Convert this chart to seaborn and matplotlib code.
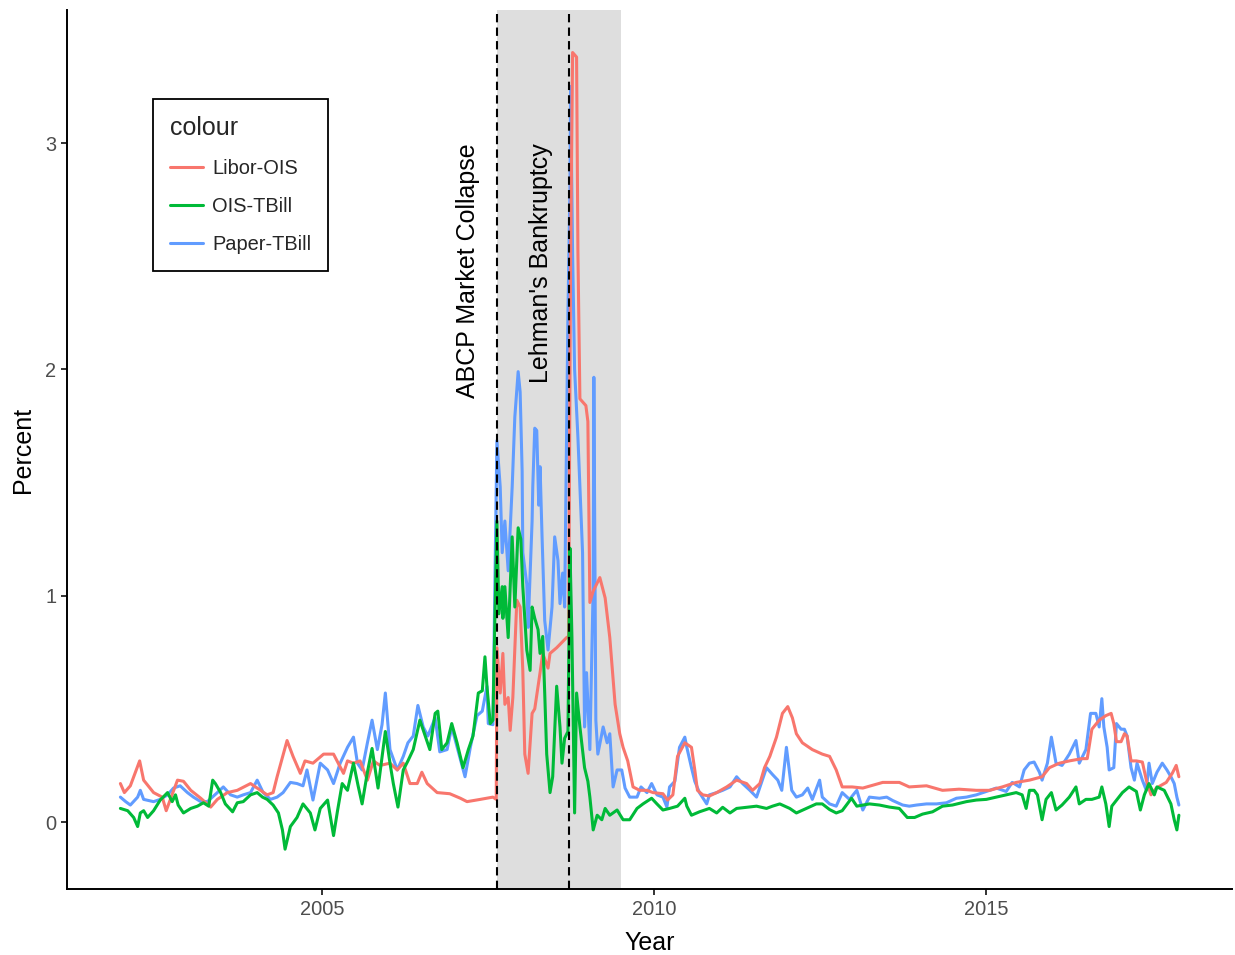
import matplotlib
matplotlib.use("Agg")
import matplotlib.pyplot as plt
import pandas as pd
import seaborn as sns
from matplotlib.lines import Line2D

# ---- spread series (percent), dates as decimal years ----
libor_years = [2001.96, 2002.02, 2002.11, 2002.25, 2002.31, 2002.46, 2002.59, 2002.65, 2002.82, 2002.91,
               2003.02, 2003.17, 2003.32, 2003.42, 2003.57, 2003.72, 2003.92, 2004.02, 2004.17, 2004.26,
               2004.32, 2004.47, 2004.56, 2004.67, 2004.74, 2004.86, 2005.02, 2005.17, 2005.32, 2005.38,
               2005.47, 2005.57, 2005.68, 2005.77, 2005.87, 2006.02, 2006.13, 2006.22, 2006.32, 2006.43,
               2006.50, 2006.58, 2006.73, 2006.92, 2007.08, 2007.18, 2007.38, 2007.57, 2007.62, 2007.63,
               2007.68, 2007.72, 2007.75, 2007.80, 2007.83, 2007.87, 2007.93, 2007.98, 2008.02, 2008.05,
               2008.10, 2008.16, 2008.20, 2008.28, 2008.32, 2008.40, 2008.43, 2008.53, 2008.68, 2008.71,
               2008.74, 2008.77, 2008.83, 2008.85, 2008.88, 2008.97, 2009.00, 2009.02, 2009.03, 2009.08,
               2009.18, 2009.26, 2009.33, 2009.41, 2009.48, 2009.53, 2009.60, 2009.68, 2009.78, 2009.89,
               2009.98, 2010.13, 2010.20, 2010.28, 2010.35, 2010.46, 2010.56, 2010.61, 2010.65, 2010.73,
               2010.83, 2010.94, 2011.09, 2011.24, 2011.39, 2011.48, 2011.59, 2011.66, 2011.74, 2011.84,
               2011.93, 2012.01, 2012.08, 2012.14, 2012.23, 2012.38, 2012.53, 2012.64, 2012.74, 2012.83,
               2012.98, 2013.14, 2013.44, 2013.69, 2013.84, 2014.10, 2014.34, 2014.59, 2014.85, 2015.05,
               2015.24, 2015.45, 2015.65, 2015.84, 2015.95, 2016.10, 2016.25, 2016.44, 2016.52, 2016.59,
               2016.70, 2016.80, 2016.88, 2016.92, 2016.96, 2017.03, 2017.08, 2017.12, 2017.18, 2017.26,
               2017.35, 2017.41, 2017.48, 2017.56, 2017.71, 2017.80, 2017.86, 2017.90]
libor_vals = [0.17, 0.13, 0.16, 0.27, 0.185, 0.13, 0.11, 0.05, 0.185, 0.18,
              0.14, 0.105, 0.066, 0.10, 0.13, 0.14, 0.17, 0.15, 0.12, 0.13,
              0.20, 0.36, 0.29, 0.215, 0.27, 0.26, 0.30, 0.30, 0.215, 0.27,
              0.26, 0.27, 0.185, 0.27, 0.25, 0.26, 0.23, 0.26, 0.17, 0.17,
              0.22, 0.17, 0.13, 0.125, 0.105, 0.09, 0.10, 0.11, 0.10, 0.77,
              0.57, 0.745, 0.52, 0.55, 0.405, 0.55, 0.98, 0.95, 0.67, 0.30,
              0.215, 0.48, 0.50, 0.66, 0.745, 0.68, 0.745, 0.77, 0.815, 0.82,
              2.49, 3.40, 3.38, 2.52, 1.87, 1.84, 1.77, 1.26, 0.97, 1.02,
              1.08, 0.99, 0.815, 0.52, 0.39, 0.33, 0.27, 0.155, 0.14, 0.14,
              0.13, 0.125, 0.097, 0.12, 0.29, 0.35, 0.33, 0.23, 0.14, 0.12,
              0.115, 0.13, 0.155, 0.185, 0.17, 0.14, 0.17, 0.24, 0.29, 0.375,
              0.48, 0.51, 0.46, 0.39, 0.35, 0.32, 0.30, 0.29, 0.23, 0.155,
              0.155, 0.15, 0.175, 0.175, 0.155, 0.16, 0.14, 0.145, 0.14, 0.14,
              0.155, 0.175, 0.185, 0.20, 0.24, 0.26, 0.27, 0.28, 0.28, 0.41,
              0.45, 0.47, 0.48, 0.435, 0.355, 0.355, 0.39, 0.38, 0.27, 0.27,
              0.265, 0.185, 0.12, 0.15, 0.175, 0.215, 0.25, 0.20]

ois_years = [2001.96, 2002.07, 2002.16, 2002.22, 2002.26, 2002.31, 2002.37, 2002.46, 2002.56, 2002.67,
             2002.74, 2002.79, 2002.83, 2002.91, 2003.02, 2003.12, 2003.21, 2003.29, 2003.35, 2003.39,
             2003.47, 2003.54, 2003.65, 2003.72, 2003.81, 2003.92, 2004.02, 2004.10, 2004.17, 2004.26,
             2004.34, 2004.40, 2004.44, 2004.52, 2004.62, 2004.71, 2004.82, 2004.89, 2004.97, 2005.08,
             2005.17, 2005.23, 2005.30, 2005.38, 2005.47, 2005.54, 2005.60, 2005.68, 2005.75, 2005.84,
             2005.95, 2006.02, 2006.07, 2006.14, 2006.22, 2006.29, 2006.37, 2006.47, 2006.55, 2006.62,
             2006.70, 2006.74, 2006.80, 2006.88, 2006.95, 2007.03, 2007.12, 2007.20, 2007.27, 2007.35,
             2007.41, 2007.45, 2007.48, 2007.53, 2007.57, 2007.60, 2007.63, 2007.66, 2007.71, 2007.72,
             2007.75, 2007.80, 2007.86, 2007.90, 2007.95, 2007.99, 2008.02, 2008.08, 2008.13, 2008.16,
             2008.20, 2008.25, 2008.28, 2008.32, 2008.35, 2008.38, 2008.43, 2008.47, 2008.53, 2008.58,
             2008.61, 2008.65, 2008.70, 2008.73, 2008.76, 2008.80, 2008.83, 2008.88, 2008.95, 2009.00,
             2009.03, 2009.08, 2009.14, 2009.21, 2009.26, 2009.33, 2009.44, 2009.53, 2009.63, 2009.74,
             2009.83, 2009.96, 2010.04, 2010.13, 2010.23, 2010.35, 2010.46, 2010.49, 2010.56, 2010.68,
             2010.83, 2010.94, 2011.03, 2011.14, 2011.24, 2011.39, 2011.54, 2011.69, 2011.78, 2011.89,
             2012.04, 2012.14, 2012.29, 2012.44, 2012.53, 2012.64, 2012.74, 2012.83, 2012.97, 2013.05,
             2013.24, 2013.39, 2013.54, 2013.69, 2013.81, 2013.92, 2014.04, 2014.19, 2014.34, 2014.49,
             2014.70, 2014.85, 2015.00, 2015.15, 2015.30, 2015.45, 2015.54, 2015.60, 2015.65, 2015.72,
             2015.77, 2015.84, 2015.90, 2015.98, 2016.05, 2016.14, 2016.25, 2016.35, 2016.40, 2016.50,
             2016.59, 2016.70, 2016.74, 2016.80, 2016.85, 2016.89, 2016.97, 2017.05, 2017.15, 2017.26,
             2017.32, 2017.38, 2017.45, 2017.53, 2017.57, 2017.68, 2017.78, 2017.83, 2017.87, 2017.90]
ois_vals = [0.06, 0.05, 0.02, -0.02, 0.04, 0.05, 0.02, 0.05, 0.097, 0.13,
            0.09, 0.12, 0.075, 0.04, 0.06, 0.07, 0.085, 0.07, 0.185, 0.17,
            0.13, 0.08, 0.045, 0.085, 0.09, 0.12, 0.13, 0.11, 0.10, 0.075,
            0.04, -0.035, -0.12, -0.02, 0.02, 0.08, 0.04, -0.035, 0.06, 0.097,
            -0.06, 0.05, 0.17, 0.14, 0.26, 0.16, 0.08, 0.22, 0.325, 0.15,
            0.40, 0.26, 0.17, 0.066, 0.23, 0.27, 0.32, 0.45, 0.38, 0.32,
            0.48, 0.49, 0.32, 0.35, 0.435, 0.35, 0.24, 0.32, 0.38, 0.57,
            0.58, 0.73, 0.60, 0.435, 0.45, 0.90, 1.33, 0.92, 1.04, 0.90,
            1.04, 0.815, 1.26, 0.95, 1.30, 1.25, 1.04, 0.76, 0.67, 0.95,
            0.90, 0.85, 0.745, 0.82, 0.57, 0.30, 0.13, 0.20, 0.60, 0.42,
            0.26, 0.37, 0.40, 1.21, 0.815, 0.04, 0.57, 0.42, 0.24, 0.18,
            0.11, -0.035, 0.03, 0.01, 0.06, 0.03, 0.053, 0.01, 0.01, 0.06,
            0.08, 0.105, 0.08, 0.053, 0.06, 0.07, 0.105, 0.07, 0.03, 0.045,
            0.06, 0.04, 0.065, 0.04, 0.06, 0.065, 0.07, 0.06, 0.07, 0.08,
            0.06, 0.04, 0.06, 0.08, 0.08, 0.055, 0.04, 0.05, 0.105, 0.07,
            0.08, 0.075, 0.066, 0.06, 0.02, 0.02, 0.035, 0.045, 0.07, 0.075,
            0.09, 0.097, 0.10, 0.11, 0.12, 0.13, 0.12, 0.06, 0.14, 0.14,
            0.12, 0.01, 0.10, 0.13, 0.053, 0.075, 0.11, 0.155, 0.08, 0.10,
            0.10, 0.11, 0.155, 0.08, -0.02, 0.07, 0.10, 0.13, 0.155, 0.135,
            0.053, 0.12, 0.17, 0.12, 0.155, 0.14, 0.08, 0.01, -0.035, 0.03]

paper_years = [2001.96, 2002.04, 2002.11, 2002.22, 2002.26, 2002.31, 2002.46, 2002.56, 2002.67, 2002.76,
               2002.86, 2002.97, 2003.06, 2003.17, 2003.27, 2003.42, 2003.51, 2003.62, 2003.72, 2003.81,
               2003.92, 2004.02, 2004.11, 2004.22, 2004.32, 2004.41, 2004.52, 2004.62, 2004.71, 2004.77,
               2004.86, 2004.97, 2005.08, 2005.17, 2005.27, 2005.38, 2005.47, 2005.53, 2005.60, 2005.68,
               2005.75, 2005.83, 2005.90, 2005.95, 2006.02, 2006.13, 2006.22, 2006.29, 2006.37, 2006.44,
               2006.52, 2006.59, 2006.70, 2006.77, 2006.88, 2006.95, 2007.05, 2007.15, 2007.23, 2007.33,
               2007.41, 2007.48, 2007.50, 2007.57, 2007.63, 2007.68, 2007.71, 2007.75, 2007.80, 2007.86,
               2007.90, 2007.95, 2007.98, 2008.01, 2008.02, 2008.08, 2008.10, 2008.16, 2008.17, 2008.20,
               2008.23, 2008.26, 2008.28, 2008.31, 2008.35, 2008.40, 2008.46, 2008.50, 2008.55, 2008.58,
               2008.62, 2008.65, 2008.70, 2008.73, 2008.74, 2008.77, 2008.80, 2008.85, 2008.88, 2008.92,
               2008.95, 2008.98, 2009.03, 2009.08, 2009.09, 2009.12, 2009.15, 2009.23, 2009.29, 2009.33,
               2009.38, 2009.44, 2009.51, 2009.56, 2009.63, 2009.74, 2009.80, 2009.89, 2009.96, 2010.04,
               2010.13, 2010.19, 2010.23, 2010.31, 2010.38, 2010.46, 2010.49, 2010.56, 2010.61, 2010.68,
               2010.79, 2010.83, 2010.94, 2011.03, 2011.14, 2011.24, 2011.33, 2011.44, 2011.54, 2011.62,
               2011.69, 2011.78, 2011.86, 2011.92, 2011.99, 2012.07, 2012.14, 2012.23, 2012.31, 2012.38,
               2012.49, 2012.53, 2012.64, 2012.74, 2012.83, 2012.94, 2013.05, 2013.14, 2013.24, 2013.39,
               2013.50, 2013.59, 2013.74, 2013.84, 2013.95, 2014.10, 2014.25, 2014.40, 2014.55, 2014.70,
               2014.85, 2015.00, 2015.15, 2015.30, 2015.39, 2015.50, 2015.57, 2015.65, 2015.72, 2015.80,
               2015.84, 2015.92, 2015.98, 2016.05, 2016.14, 2016.25, 2016.35, 2016.40, 2016.50, 2016.57,
               2016.65, 2016.70, 2016.74, 2016.77, 2016.82, 2016.85, 2016.92, 2016.96, 2017.03, 2017.08,
               2017.12, 2017.18, 2017.23, 2017.27, 2017.35, 2017.41, 2017.45, 2017.50, 2017.57, 2017.65,
               2017.72, 2017.78, 2017.83, 2017.87, 2017.90]
paper_vals = [0.11, 0.09, 0.075, 0.11, 0.14, 0.10, 0.09, 0.10, 0.12, 0.15,
              0.16, 0.13, 0.11, 0.09, 0.09, 0.13, 0.155, 0.12, 0.11, 0.12,
              0.13, 0.185, 0.13, 0.10, 0.11, 0.13, 0.175, 0.17, 0.16, 0.23,
              0.097, 0.26, 0.23, 0.17, 0.26, 0.33, 0.375, 0.26, 0.23, 0.35,
              0.45, 0.32, 0.43, 0.57, 0.32, 0.23, 0.29, 0.35, 0.38, 0.515,
              0.42, 0.38, 0.46, 0.31, 0.32, 0.42, 0.31, 0.20, 0.33, 0.47,
              0.49, 0.60, 0.435, 0.43, 1.685, 1.48, 1.19, 1.33, 1.11, 1.48,
              1.79, 1.99, 1.90, 1.55, 1.19, 1.05, 0.86, 1.33, 1.48, 1.74,
              1.73, 1.40, 1.57, 1.26, 0.89, 0.76, 0.95, 1.26, 1.155, 0.965,
              1.10, 0.95, 2.25, 2.80, 3.25, 2.51, 2.00, 1.70, 1.48, 1.19,
              0.42, 0.66, 0.32, 1.04, 1.965, 0.45, 0.30, 0.42, 0.35, 0.39,
              0.155, 0.23, 0.23, 0.15, 0.11, 0.11, 0.155, 0.13, 0.17, 0.12,
              0.11, 0.066, 0.155, 0.18, 0.33, 0.375, 0.33, 0.24, 0.18, 0.13,
              0.08, 0.12, 0.13, 0.14, 0.155, 0.20, 0.17, 0.14, 0.11, 0.18,
              0.24, 0.21, 0.185, 0.14, 0.33, 0.14, 0.11, 0.12, 0.15, 0.10,
              0.185, 0.11, 0.08, 0.07, 0.13, 0.10, 0.14, 0.053, 0.11, 0.105,
              0.11, 0.095, 0.075, 0.07, 0.075, 0.08, 0.08, 0.085, 0.105, 0.11,
              0.12, 0.135, 0.15, 0.135, 0.175, 0.155, 0.23, 0.26, 0.265, 0.22,
              0.185, 0.26, 0.375, 0.26, 0.25, 0.30, 0.36, 0.26, 0.32, 0.48,
              0.48, 0.42, 0.545, 0.42, 0.33, 0.23, 0.24, 0.435, 0.41, 0.41,
              0.38, 0.24, 0.185, 0.26, 0.185, 0.14, 0.26, 0.17, 0.22, 0.26,
              0.23, 0.20, 0.17, 0.11, 0.075]

series_names = ["Libor-OIS", "OIS-TBill", "Paper-TBill"]
series_colors = ["#F8766D", "#00BA38", "#619CFF"]

# event dates (decimal years)
abcp_date = 2007.63
lehman_date = 2008.72
recession_end = 2009.50

frames = []
for name, yrs, vals in zip(series_names,
                           [libor_years, ois_years, paper_years],
                           [libor_vals, ois_vals, paper_vals]):
    frames.append(pd.DataFrame({"Year": yrs, "Percent": vals, "colour": name}))
df = pd.concat(frames, ignore_index=True)

sns.set_theme(style="ticks")
plt.rcParams["font.family"] = ["Liberation Sans", "DejaVu Sans"]

W, H = 1235, 955
fig = plt.figure(figsize=(W / 100, H / 100), dpi=100)
ax = fig.add_axes([67 / W, 1 - 889 / H, (1232 - 67) / W, (889 - 10) / H])

# shaded crisis window
ax.axvspan(abcp_date, recession_end, color="#DEDEDE", lw=0, zorder=0)

# draw order: Paper-TBill, Libor-OIS, OIS-TBill
palette = dict(zip(series_names, series_colors))
for name in ["Paper-TBill", "Libor-OIS", "OIS-TBill"]:
    sns.lineplot(data=df[df["colour"] == name], x="Year", y="Percent",
                 color=palette[name], linewidth=2.2, estimator=None,
                 ax=ax, legend=False, zorder=2)

for d in (abcp_date, lehman_date):
    ax.axvline(d, color="black", lw=1.5, ls=(0, (4, 2.5)), zorder=3)

ax.text(2007.19, 3.0, "ABCP Market Collapse", rotation=90, ha="center", va="top",
        fontsize=18, color="black", zorder=4)
ax.text(2008.29, 3.0, "Lehman's Bankruptcy", rotation=90, ha="center", va="top",
        fontsize=18, color="black", zorder=4)

ax.set_xlim(2001.156, 2018.70)
ax.set_ylim(-0.296, 3.588)
ax.set_xticks([2005, 2010, 2015])
ax.set_yticks([0, 1, 2, 3])
ax.set_xlabel("Year", fontsize=18, color="black", labelpad=9)
ax.set_ylabel("Percent", fontsize=18, color="black", labelpad=7)

sns.despine(ax=ax)
for side in ("left", "bottom"):
    ax.spines[side].set_color("black")
    ax.spines[side].set_linewidth(1.4)
ax.tick_params(axis="both", which="major", length=4.3, width=1.4, color="#333333",
               labelsize=14.4, labelcolor="#4D4D4D", pad=3.5)
ax.grid(False)
ax.set_facecolor("white")
fig.patch.set_facecolor("white")

handles = [Line2D([0], [0], color=c, lw=2.2) for c in series_colors]
leg = ax.legend(handles, series_names, title="colour", loc="upper left",
                bbox_to_anchor=(0.0738, 0.8987), borderaxespad=0, frameon=True,
                fancybox=False, edgecolor="black", framealpha=1, fontsize=14.4,
                title_fontsize=18, handlelength=1.65, handletextpad=0.45,
                labelspacing=0.95, borderpad=0.85, alignment="left")
leg.get_frame().set_linewidth(1.3)

fig.savefig("out.png", dpi=100, facecolor="white")
